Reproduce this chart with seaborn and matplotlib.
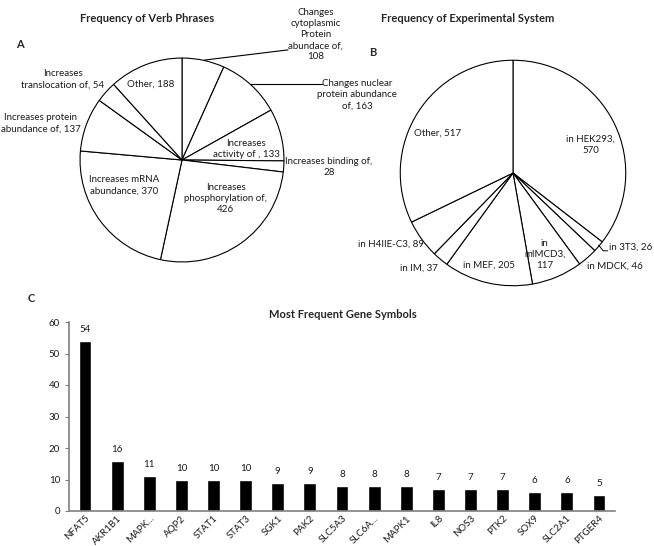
import matplotlib
matplotlib.use("Agg")
import matplotlib.pyplot as plt
import numpy as np
import pandas as pd
import seaborn as sns

# panel A: verb phrases
verb_labels = [
    "Changes\ncytoplasmic\nProtein\nabundace of,\n108",
    "Changes nuclear\nprotein abundance\nof, 163",
    "Increases\nactivity of , 133",
    "Increases binding of,\n28",
    "Increases\nphosphorylation of,\n426",
    "Increases mRNA\nabundance, 370",
    "Increases protein\nabundance of, 137",
    "Increases\ntranslocation of, 54",
    "Other, 188",
]
verb_counts = [108, 163, 133, 28, 426, 370, 137, 54, 188]

# panel B: experimental system
system_labels = [
    "in HEK293,\n570",
    "in 3T3, 26",
    "in MDCK, 46",
    "in\nmIMCD3,\n117",
    "in MEF, 205",
    "in IM, 37",
    "in H4IIE-C3, 89",
    "Other, 517",
]
system_counts = [570, 26, 46, 117, 205, 37, 89, 517]

# panel C: gene symbols
genes = ["NFAT5", "AKR1B1", "MAPK...", "AQP2", "STAT1", "STAT3", "SGK1", "PAK2",
         "SLC5A3", "SLC6A...", "MAPK1", "IL8", "NOS3", "PTK2", "SOX9", "SLC2A1", "PTGER4"]
gene_counts = [54, 16, 11, 10, 10, 10, 9, 9, 8, 8, 8, 7, 7, 7, 6, 6, 5]

sns.set_style("white")
plt.rcParams["font.family"] = ["Lato", "DejaVu Sans"]

W, H = 654, 546
fig = plt.figure(figsize=(W / 100, H / 100), dpi=100)


def px_axes(cx, cy, r):
    # square axes centred on pixel (cx, cy) with radius r px
    return fig.add_axes([(cx - r) / W, (H - cy - r) / H, 2 * r / W, 2 * r / H])


def draw_pie(ax, counts):
    ax.pie(counts, startangle=90, counterclock=False, radius=1,
           colors=["white"] * len(counts),
           wedgeprops=dict(edgecolor="black", linewidth=0.8))
    ax.set_xlim(-1.02, 1.02)
    ax.set_ylim(-1.02, 1.02)
    ax.set_aspect("equal")
    ax.axis("off")


fs = 7
tc = "#1a1a1a"

# ---- pie A
axA = px_axes(182, 160, 104)
draw_pie(axA, verb_counts)
posA = [(1.31, 1.23), (1.72, 0.64), (0.63, 0.11), (1.44, -0.07), (0.43, -0.375),
        (-0.57, -0.25), (-1.385, 0.36), (-1.17, 0.79), (-0.31, 0.74)]
for lab, (x, y) in zip(verb_labels, posA):
    axA.text(x, y, lab, ha="center", va="center", fontsize=fs, color=tc,
             linespacing=1.3)
axA.plot([0.22, 1.04], [0.98, 1.08], color="black", lw=0.8, clip_on=False)
axA.plot([0.67, 1.375], [0.75, 0.75], color="black", lw=0.8, clip_on=False)

# ---- pie B
axB = px_axes(513, 173, 115)
draw_pie(axB, system_counts)
posB = [(0.69, 0.25), (0.85, -0.66), (0.90, -0.83), (0.28, -0.72), (-0.21, -0.82),
        (-0.83, -0.84), (-1.08, -0.63), (-0.67, 0.35)]
for i, (lab, (x, y)) in enumerate(zip(system_labels, posB)):
    axB.text(x, y, lab, ha="left" if i == 1 else "center", va="center", fontsize=fs,
             color=tc, linespacing=1.3)
axB.plot([0.76, 0.80, 0.84], [-0.64, -0.69, -0.69], color="black", lw=0.7, clip_on=False)

# ---- bar chart C
axC = fig.add_axes([69 / W, (H - 511) / H, (615 - 69) / W, (511 - 322) / H])
df = pd.DataFrame({"gene": genes, "count": gene_counts})
sns.barplot(data=df, x="gene", y="count", color="black", width=0.4,
            saturation=1, ax=axC)
for c in axC.containers:
    axC.bar_label(c, padding=5, fontsize=fs, color=tc)
axC.set_xlim(-0.5, len(genes) - 0.5)
axC.set_ylim(0, 60)
axC.set_yticks(range(0, 61, 10))
axC.set_xlabel("")
axC.set_ylabel("")
for s in ["top", "right"]:
    axC.spines[s].set_visible(False)
for s in ["left", "bottom"]:
    axC.spines[s].set_color("#808080")
    axC.spines[s].set_linewidth(1.2)
axC.set_xticks(np.arange(-0.5, len(genes), 1), minor=True)
axC.tick_params(axis="x", which="major", length=0, labelsize=fs, pad=2)
axC.tick_params(axis="x", which="minor", length=3, color="#808080", direction="out")
axC.tick_params(axis="y", length=3, color="#808080", direction="out", labelsize=fs,
                labelcolor=tc, left=True)
plt.setp(axC.get_xticklabels(), rotation=45, ha="right", rotation_mode="anchor",
         color=tc)

# titles and panel letters
fig.text(147 / W, 1 - 18 / H, "Frequency of Verb Phrases", ha="center", va="center",
         fontsize=8, fontweight="bold")
fig.text(468 / W, 1 - 18 / H, "Frequency of Experimental System", ha="center",
         va="center", fontsize=8, fontweight="bold")
fig.text(343 / W, 1 - 315 / H, "Most Frequent Gene Symbols", ha="center", va="center",
         fontsize=8, fontweight="bold")
fig.text(20 / W, 1 - 45 / H, "A", ha="center", va="center", fontsize=8, fontweight="bold")
fig.text(373 / W, 1 - 52 / H, "B", ha="center", va="center", fontsize=8, fontweight="bold")
fig.text(31 / W, 1 - 298 / H, "C", ha="center", va="center", fontsize=8, fontweight="bold")

fig.savefig("out.png", dpi=100)
